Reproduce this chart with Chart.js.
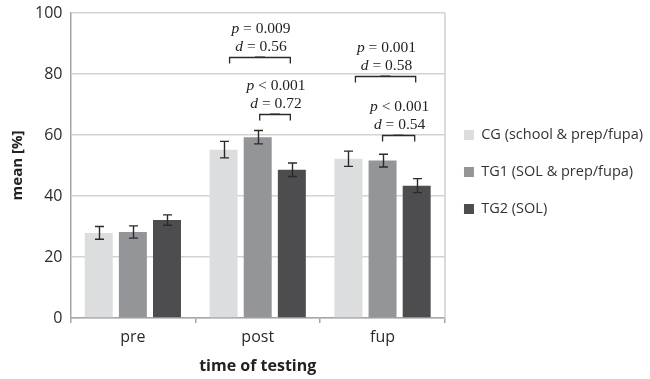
<!DOCTYPE html>
<html><head><meta charset="utf-8">
<script src="https://cdn.jsdelivr.net/npm/chart.js@4.4.1/dist/chart.umd.min.js"></script>
<style>html,body{margin:0;padding:0;background:#fff}#wrap{width:650px;height:379px;position:relative}</style>
</head><body><div id="wrap"><canvas id="c" width="650" height="379"></canvas></div>
<script>
// ---- data ----
const categories = ['pre', 'post', 'fup'];
const seriesNames = ['CG (school & prep/fupa)', 'TG1 (SOL & prep/fupa)', 'TG2 (SOL)'];
const cgMeans  = [27.9, 55.2, 52.2];
const tg1Means = [28.2, 59.3, 51.6];
const tg2Means = [32.1, 48.6, 43.4];
const cgErrors  = [2.1, 2.7, 2.5];
const tg1Errors = [2.0, 2.2, 2.1];
const tg2Errors = [1.7, 2.2, 2.3];
const yTicks = [0, 20, 40, 60, 80, 100];
const compCategory = [1, 1, 2, 2];
const compFrom = [0, 1, 0, 1];
const compTo = [2, 2, 2, 2];
const compP = ['= 0.009', '< 0.001', '= 0.001', '< 0.001'];
const compD = ['= 0.56', '= 0.72', '= 0.58', '= 0.54'];

// ---- styles ----
const barColors = ['#dcdddf', '#939598', '#4d4d4f'];
const errorArrays = [cgErrors, tg1Errors, tg2Errors];
const bracketStyle = {
  levels: [85.7, 67.0, 79.3, 60.1],
  leftInset: [6, 2, 7, 0],
  rightInset: [1.5, 1.5, 1, 2],
  drop: 6
};
const legendShift = -3.5;

const legendWidthPlugin = {
  id: 'legendWidth',
  beforeLayout(chart) {
    const lg = chart.legend;
    if (lg && !lg._wideWrapped) {
      const orig = lg.update.bind(lg);
      lg.update = function (maxW, maxH, margins) { return orig(Math.max(maxW, 240), maxH, margins); };
      lg._wideWrapped = true;
    }
  },
  afterLayout(chart) {
    const lg = chart.legend;
    if (lg) { lg.left += legendShift; lg.right += legendShift; }
  }
};

const errorBarPlugin = {
  id: 'errorBars',
  afterDatasetsDraw(chart) {
    const ctx = chart.ctx, y = chart.scales.y;
    ctx.save();
    ctx.strokeStyle = '#2a2a2a';
    ctx.lineWidth = 1.4;
    chart.data.datasets.forEach((ds, i) => {
      const meta = chart.getDatasetMeta(i);
      meta.data.forEach((bar, j) => {
        const v = ds.data[j], e = errorArrays[i][j];
        const x = Math.round(bar.x) + 0.5;
        const yt = y.getPixelForValue(v + e), yb = y.getPixelForValue(v - e);
        ctx.beginPath();
        ctx.moveTo(x, yt); ctx.lineTo(x, yb);
        ctx.moveTo(x - 4.5, yt); ctx.lineTo(x + 4.5, yt);
        ctx.moveTo(x - 4.5, yb); ctx.lineTo(x + 4.5, yb);
        ctx.stroke();
      });
    });
    ctx.restore();
  }
};

const annotPlugin = {
  id: 'annots',
  afterDraw(chart) {
    const ctx = chart.ctx, y = chart.scales.y, area = chart.chartArea;
    ctx.save();
    ctx.strokeStyle = '#cfcfcf';
    ctx.lineWidth = 1.5;
    ctx.beginPath();
    ctx.moveTo(area.right, area.top); ctx.lineTo(area.right, area.bottom);
    ctx.stroke();

    compCategory.forEach((c, k) => {
      const xa = chart.getDatasetMeta(compFrom[k]).data[c].x + bracketStyle.leftInset[k];
      const xb = chart.getDatasetMeta(compTo[k]).data[c].x - bracketStyle.rightInset[k];
      const yl = Math.round(y.getPixelForValue(bracketStyle.levels[k])) + 0.5;
      ctx.strokeStyle = '#2a2a2a';
      ctx.lineWidth = 1.3;
      ctx.beginPath();
      ctx.moveTo(xa, yl + bracketStyle.drop); ctx.lineTo(xa, yl);
      ctx.lineTo(xb, yl); ctx.lineTo(xb, yl + bracketStyle.drop);
      ctx.stroke();
      const xm = (xa + xb) / 2;
      ctx.strokeStyle = '#777';
      ctx.lineWidth = 1;
      ctx.beginPath();
      ctx.moveTo(xm - 5, yl - 1); ctx.lineTo(xm + 5, yl - 1);
      ctx.stroke();

      ctx.fillStyle = '#222';
      ctx.textBaseline = 'middle';
      ctx.textAlign = 'left';
      const drawLine = (sym, rest, ty) => {
        ctx.font = 'italic 15.5px "Liberation Serif"';
        const w1 = ctx.measureText(sym).width;
        ctx.font = '15.5px "Liberation Serif"';
        const w2 = ctx.measureText(' ' + rest).width;
        const x0 = xm - (w1 + w2) / 2 + 1;
        ctx.font = 'italic 15.5px "Liberation Serif"';
        ctx.fillText(sym, x0, ty);
        ctx.font = '15.5px "Liberation Serif"';
        ctx.fillText(' ' + rest, x0 + w1, ty);
      };
      drawLine('p', compP[k], yl - 28.5);
      drawLine('d', compD[k], yl - 11);
    });
    ctx.restore();
  }
};

function draw() {
  new Chart(document.getElementById('c'), {
    type: 'bar',
    data: {
      labels: categories,
      datasets: [
        { label: seriesNames[0], data: cgMeans,  backgroundColor: barColors[0] },
        { label: seriesNames[1], data: tg1Means, backgroundColor: barColors[1] },
        { label: seriesNames[2], data: tg2Means, backgroundColor: barColors[2] }
      ]
    },
    options: {
      responsive: false,
      animation: false,
      devicePixelRatio: 1,
      layout: { padding: { left: 5, right: -6.5, top: 0, bottom: 0 } },
      datasets: { bar: { categoryPercentage: 0.82, barPercentage: 0.82 } },
      plugins: {
        tooltip: { enabled: false },
        legend: {
          position: 'right',
          align: 'start',
          title: { display: true, text: '', font: { size: 12 }, padding: { top: 90.8, bottom: 0 } },
          labels: {
            boxWidth: 10, boxHeight: 10, padding: 22.5,
            color: '#333',
            font: { family: '"Open Sans"', size: 14.5 }
          }
        }
      },
      scales: {
        x: {
          grid: { offset: true, drawOnChartArea: false, drawTicks: true, tickLength: 5, color: '#a6a6a6', lineWidth: 1.5 },
          border: { color: '#a6a6a6', width: 1.5 },
          ticks: { color: '#2b2b2b', font: { family: '"Open Sans"', size: 16 }, padding: 5 },
          title: { display: true, text: 'time of testing', color: '#222',
                   font: { family: '"Open Sans"', size: 16, weight: 'bold' }, padding: { top: 5, bottom: 2.6 } }
        },
        y: {
          min: 0, max: 100,
          afterBuildTicks(scale) { scale.ticks = yTicks.map(v => ({ value: v })); },
          afterFit(scale) { scale.paddingTop = 13; },
          grid: { drawTicks: false, color: '#d3d3d3', lineWidth: 1.5 },
          border: { color: '#a6a6a6', width: 1.5 },
          ticks: { color: '#2b2b2b', font: { family: '"Open Sans"', size: 16 }, padding: 8 },
          title: { display: true, text: 'mean [%]', color: '#222',
                   font: { family: '"Open Sans"', size: 15, weight: 'bold' }, padding: { top: 4, bottom: 0 } }
        }
      }
    },
    plugins: [legendWidthPlugin, errorBarPlugin, annotPlugin]
  });
}

const fontLoads = [
  '14.5px "Open Sans"', '15px "Open Sans"', 'bold 15px "Open Sans"', '16px "Open Sans"', 'bold 16px "Open Sans"',
  '15.5px "Liberation Serif"', 'italic 15.5px "Liberation Serif"'
].map(f => document.fonts.load(f).catch(() => null));
Promise.all(fontLoads).then(draw, draw);
</script>
</body></html>
